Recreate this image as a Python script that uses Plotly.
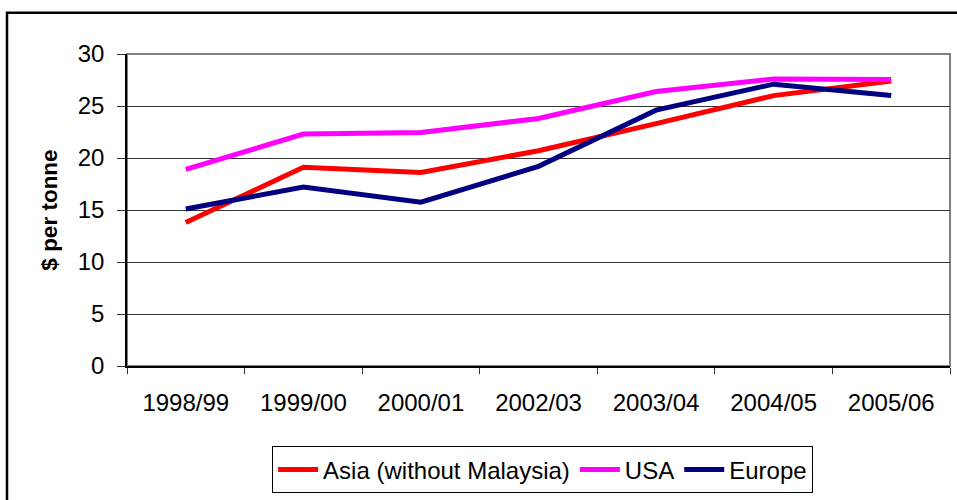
import plotly.graph_objects as go

# Price per tonne by season and region
seasons = ["1998/99", "1999/00", "2000/01", "2002/03", "2003/04", "2004/05", "2005/06"]
asia = [13.8, 19.1, 18.6, 20.7, 23.3, 26.0, 27.4]
usa = [18.9, 22.3, 22.45, 23.8, 26.4, 27.6, 27.55]
europe = [15.1, 17.2, 15.75, 19.2, 24.6, 27.1, 26.0]

series = [
    ("Asia (without Malaysia)", asia, "#FF0000"),
    ("USA", usa, "#FF00FF"),
    ("Europe", europe, "#000080"),
]

FONT = "Liberation Sans, Arial, sans-serif"

fig = go.Figure()
for name, vals, color in series:
    fig.add_trace(go.Scatter(
        x=seasons, y=vals, name=name, mode="lines",
        line=dict(color=color, width=5),
    ))

fig.update_layout(
    width=957, height=500,
    margin=dict(l=127, r=7, t=54, b=128),
    paper_bgcolor="white", plot_bgcolor="white",
    font=dict(family=FONT, size=24, color="black"),
    showlegend=True,
    legend=dict(
        orientation="h", x=0.505, xanchor="center", y=-0.258, yanchor="top",
        bordercolor="black", borderwidth=1, bgcolor="white",
        font=dict(size=24), itemwidth=40, tracegroupgap=0,
    ),
    shapes=[
        # plot-area frame
        dict(type="rect", xref="paper", yref="paper", x0=0, y0=0, x1=1, y1=1,
             line=dict(color="#808080", width=2), layer="below"),
        # outer chart border
        dict(type="rect", xref="paper", yref="paper", x0=-0.1458, y0=-0.6,
             x1=1.2, y1=1.132, line=dict(color="black", width=2.5)),
    ],
)

fig.update_xaxes(
    type="category", tickson="boundaries", range=[-0.5, len(seasons) - 0.5],
    ticks="outside", ticklen=6, tickcolor="#333", tickwidth=1,
    showline=True, linecolor="black", linewidth=1.5,
    showgrid=False, ticklabelstandoff=14, automargin=False,
    tickfont=dict(size=24),
)
fig.update_yaxes(
    range=[0, 30], dtick=5, tick0=0,
    ticks="outside", ticklen=8, tickcolor="#333", tickwidth=1,
    showline=True, linecolor="black", linewidth=1.5,
    showgrid=True, gridcolor="#333333", gridwidth=1,
    zeroline=False, ticklabelstandoff=8, automargin=False,
    tickfont=dict(size=24),
    title=dict(text="<b>$ per tonne</b>", font=dict(size=22.5), standoff=14),
)

fig.write_html("out.html")
